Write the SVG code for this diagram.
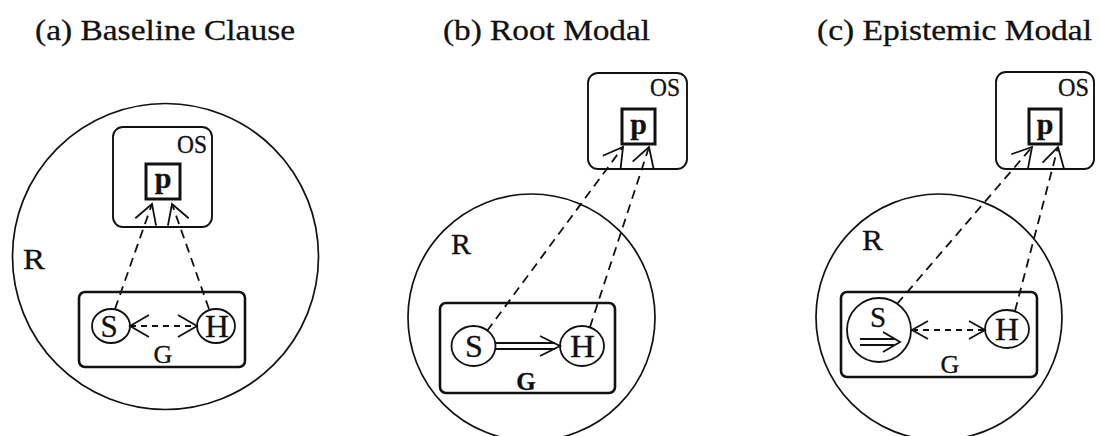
<svg xmlns="http://www.w3.org/2000/svg" width="1100" height="436" viewBox="0 0 1100 436">
<style>
text{font-family:"Liberation Serif","Times New Roman",serif;fill:#111;stroke:#111;stroke-width:0.3}
.big{fill:none;stroke:#111;stroke-width:1.7}
.osbox{fill:none;stroke:#111;stroke-width:1.9}
.pbox{fill:none;stroke:#111;stroke-width:3}
.gbox{fill:none;stroke:#111;stroke-width:2.6}
.node{fill:#fff;stroke:#111;stroke-width:1.8}
.dash{fill:none;stroke:#111;stroke-width:1.8;stroke-dasharray:9 6}
.sdash{fill:none;stroke:#111;stroke-width:1.8;stroke-dasharray:6 5}
.solid{fill:none;stroke:#111;stroke-width:1.9}
</style>
<defs>
<marker id="open" markerUnits="userSpaceOnUse" markerWidth="30" markerHeight="30" refX="0" refY="0" viewBox="-25 -15 30 30" orient="auto-start-reverse" overflow="visible">
<path d="M-19,-11 L0,0 L-19,11" fill="none" stroke="#111" stroke-width="1.8"/>
</marker>
<marker id="opensm" markerUnits="userSpaceOnUse" markerWidth="30" markerHeight="30" refX="0" refY="0" viewBox="-25 -15 30 30" orient="auto-start-reverse" overflow="visible">
<path d="M-16,-9 L0,0 L-16,9" fill="none" stroke="#111" stroke-width="1.8"/>
</marker>
</defs>

<!-- Titles -->
<g id="title-a"><text font-size="29" x="35" y="40" textLength="260" lengthAdjust="spacingAndGlyphs">(a) Baseline Clause</text></g>
<g id="title-b"><text font-size="29" x="443" y="40" textLength="207" lengthAdjust="spacingAndGlyphs">(b) Root Modal</text></g>
<g id="title-c"><text font-size="29" x="817" y="40" textLength="275" lengthAdjust="spacingAndGlyphs">(c) Epistemic Modal</text></g>

<!-- Panel (a) -->
<g id="a-R"><circle class="big" cx="165.5" cy="256.5" r="153"/><text font-size="30" x="23" y="269" textLength="22" lengthAdjust="spacingAndGlyphs">R</text></g>
<g id="a-OS"><rect class="osbox" x="113" y="127" width="99" height="100" rx="10"/><text font-size="25" x="177" y="153" textLength="30" lengthAdjust="spacingAndGlyphs">OS</text></g>
<g id="a-p"><rect class="pbox" x="146" y="164" width="34" height="35"/><text font-size="30" font-weight="bold" x="163" y="188" text-anchor="middle">p</text></g>
<g id="a-G"><rect class="gbox" x="79" y="292" width="166" height="75" rx="6"/><text font-size="26" x="163" y="363" text-anchor="middle">G</text></g>
<g id="a-S"><ellipse class="node" cx="111" cy="326" rx="19" ry="17"/><text font-size="31" x="109" y="337" text-anchor="middle">S</text></g>
<g id="a-H"><ellipse class="node" cx="216" cy="326" rx="19" ry="17"/><text font-size="31" x="217" y="337" text-anchor="middle" textLength="24" lengthAdjust="spacingAndGlyphs">H</text></g>

<!-- Panel (b) -->
<g id="b-R"><circle class="big" cx="531.5" cy="317.5" r="123.5"/><text font-size="30" x="451" y="254" textLength="20" lengthAdjust="spacingAndGlyphs">R</text></g>
<g id="b-OS"><rect class="osbox" x="588" y="73" width="99" height="96" rx="10"/><text font-size="25" x="650" y="96" textLength="30" lengthAdjust="spacingAndGlyphs">OS</text></g>
<g id="b-p"><rect class="pbox" x="622" y="109" width="33" height="35"/><text font-size="30" font-weight="bold" x="638.5" y="134" text-anchor="middle">p</text></g>
<g id="b-G"><rect class="gbox" x="440" y="303" width="175" height="90" rx="6"/><text font-size="25" x="526" y="390" text-anchor="middle" font-weight="bold">G</text></g>
<g id="b-S"><ellipse class="node" cx="473.5" cy="346" rx="22" ry="20"/><text font-size="32" x="474" y="357" text-anchor="middle">S</text></g>
<g id="b-H"><ellipse class="node" cx="582" cy="346" rx="22" ry="20"/><text font-size="32" x="582.5" y="357" text-anchor="middle" textLength="25" lengthAdjust="spacingAndGlyphs">H</text></g>

<!-- Panel (c) -->
<g id="c-R"><circle class="big" cx="939" cy="317" r="123"/><text font-size="30" x="862" y="250" textLength="21" lengthAdjust="spacingAndGlyphs">R</text></g>
<g id="c-OS"><rect class="osbox" x="996" y="72" width="98" height="97" rx="10"/><text font-size="25" x="1058" y="96" textLength="31" lengthAdjust="spacingAndGlyphs">OS</text></g>
<g id="c-p"><rect class="pbox" x="1029" y="109" width="32" height="35"/><text font-size="30" font-weight="bold" x="1045" y="134" text-anchor="middle">p</text></g>
<g id="c-G"><rect class="gbox" x="841" y="292" width="196" height="85" rx="6"/><text font-size="26" x="950" y="373" text-anchor="middle">G</text></g>
<g id="c-S"><circle class="node" cx="879" cy="330" r="32"/><text font-size="29" x="878" y="327" text-anchor="middle">S</text>
<line class="solid" x1="860" y1="339" x2="894" y2="339"/><line class="solid" x1="860" y1="345" x2="894" y2="345"/>
<path class="solid" d="M883,332 L900,342 L883,352"/></g>
<g id="c-H"><ellipse class="node" cx="1007" cy="329" rx="22" ry="19"/><text font-size="31" x="1007" y="340" text-anchor="middle" textLength="24" lengthAdjust="spacingAndGlyphs">H</text></g>

<!-- Connectors -->
<g id="connectors">
<line class="dash" x1="115" y1="309" x2="152" y2="204" marker-end="url(#open)"/>
<line class="dash" x1="209" y1="309" x2="172" y2="204" marker-end="url(#open)"/>
<line class="sdash" x1="130" y1="326" x2="197" y2="326" marker-start="url(#open)" marker-end="url(#open)"/>

<line class="dash" x1="487" y1="331" x2="623" y2="147" marker-end="url(#open)"/>
<line class="dash" x1="590" y1="327" x2="649" y2="147" marker-end="url(#open)"/>
<line class="solid" x1="495.5" y1="343" x2="555" y2="343"/>
<line class="solid" x1="495.5" y1="349" x2="555" y2="349"/>
<path class="solid" d="M540,336 L560,346 L540,356"/>

<line class="dash" x1="897" y1="304" x2="1032" y2="147" marker-end="url(#open)"/>
<line class="dash" x1="1015" y1="311" x2="1058" y2="147" marker-end="url(#open)"/>
<line class="sdash" x1="912" y1="330" x2="985" y2="330" marker-start="url(#opensm)" marker-end="url(#opensm)"/>
</g>
</svg>
